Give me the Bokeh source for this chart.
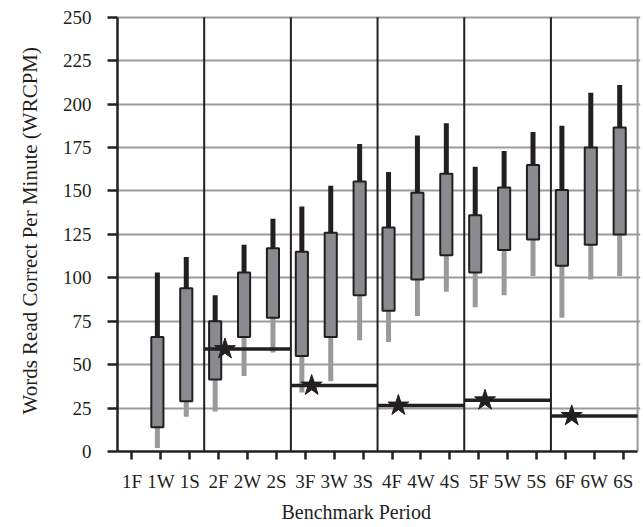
import math
from bokeh.plotting import figure
from bokeh.models import FixedTicker, Range1d, ColumnDataSource, Title
from bokeh.embed import file_html
from bokeh.resources import INLINE

# ---- data ----
categories = ["1F", "1W", "1S", "2F", "2W", "2S", "3F", "3W", "3S",
              "4F", "4W", "4S", "5F", "5W", "5S", "6F", "6W", "6S"]
low_whisker = [None, 2, 20, 23, 43.5, 57, 34, 40.5, 64, 63, 78, 92, 83, 90, 101, 77, 99, 101]
q1_values   = [None, 14, 29, 41.5, 66, 77, 55, 66, 90, 81, 99, 113, 103, 116, 122, 107, 119, 125]
q3_values   = [None, 66, 94, 75, 103, 117, 115, 126, 155.5, 129, 149, 160, 136, 152, 165, 150.5, 175, 186.5]
high_whisker = [None, 103, 112, 90, 119, 134, 141, 153, 177, 161, 182, 189, 164, 173, 184, 187.5, 206.5, 211]

grades = ["1", "2", "3", "4", "5", "6"]
benchmarks = [None, 59, 38, 26.5, 29.5, 20.5]

y_ticks = [0, 25, 50, 75, 100, 125, 150, 175, 200, 225, 250]

FONT = "Liberation Serif"
INK = "#231f20"
GRID = "#9b9b9b"
BOX_FILL = "#8a8b8e"
LOW_COL = "#9a9a9a"

# ---- figure ----
p = figure(width=643, height=527,
           x_range=Range1d(0, 18.1), y_range=Range1d(0, 252.2),
           output_backend="svg", toolbar_location=None,
           min_border_left=117, min_border_right=3,
           min_border_top=13, min_border_bottom=76)
p.outline_line_color = None
p.background_fill_color = "white"
p.border_fill_color = "white"

# grid
p.xgrid.grid_line_color = None
p.ygrid.grid_line_color = GRID
p.ygrid.grid_line_width = 2
p.ygrid.ticker = FixedTicker(ticks=y_ticks)

# axes
p.yaxis.ticker = FixedTicker(ticks=y_ticks)
p.yaxis.bounds = (0, 250)
p.yaxis.minor_tick_line_color = None
p.yaxis.major_tick_out = 10
p.yaxis.major_tick_in = 0
p.yaxis.major_tick_line_width = 2.5
p.yaxis.major_tick_line_color = INK
p.yaxis.axis_line_width = 2.5
p.yaxis.axis_line_color = INK
p.yaxis.major_label_standoff = 16
p.yaxis.major_label_text_font = FONT
p.yaxis.major_label_text_font_size = "19px"
p.yaxis.major_label_text_color = INK

tick_pos = [i + 0.5 for i in range(len(categories))]
p.xaxis.ticker = FixedTicker(ticks=tick_pos)
p.xaxis.bounds = (0, 18)
p.xaxis.major_label_overrides = {t: c for t, c in zip(tick_pos, categories)}
p.xaxis.minor_tick_line_color = None
p.xaxis.major_tick_out = 8
p.xaxis.major_tick_in = 0
p.xaxis.major_tick_line_width = 2.5
p.xaxis.major_tick_line_color = INK
p.xaxis.axis_line_width = 2.5
p.xaxis.axis_line_color = INK
p.xaxis.major_label_standoff = 11
p.xaxis.major_label_text_font = FONT
p.xaxis.major_label_text_font_size = "19px"
p.xaxis.major_label_text_color = INK

# axis titles
p.add_layout(Title(text="Benchmark Period", align="left", offset=164,
                   standoff=8, text_font=FONT, text_font_size="20px",
                   text_font_style="normal", text_color=INK), "below")
p.add_layout(Title(text="Words Read Correct Per Minute (WRCPM)", align="left", offset=37,
                   vertical_align="top",
                   standoff=31, text_font=FONT, text_font_size="21px",
                   text_font_style="normal", text_color=INK), "left")

# group dividers
div_x = [3 * k for k in range(1, 6)]
p.segment(x0=div_x, y0=[0] * len(div_x), x1=div_x, y1=[250] * len(div_x),
          line_color=INK, line_width=2)
p.segment(x0=[18], y0=[0], x1=[18], y1=[250], line_color=GRID, line_width=2)

# boxes
xs, lo, a, b, hi = [], [], [], [], []
for i, c in enumerate(categories):
    if q1_values[i] is None:
        continue
    xs.append(i + 0.38)
    lo.append(low_whisker[i]); a.append(q1_values[i])
    b.append(q3_values[i]); hi.append(high_whisker[i])
src = ColumnDataSource(dict(x=xs, lo=lo, q1=a, q3=b, hi=hi))

p.segment(x0="x", y0="lo", x1="x", y1="q1", source=src,
          line_color=LOW_COL, line_width=5, line_cap="butt")
p.segment(x0="x", y0="q3", x1="x", y1="hi", source=src,
          line_color=INK, line_width=5, line_cap="butt")
p.vbar(x="x", bottom="q1", top="q3", width=0.42, source=src,
       fill_color=BOX_FILL, line_color=INK, line_width=2)

# benchmarks
bx0, bx1, by, sx = [], [], [], []
for g, val in enumerate(benchmarks):
    if val is None:
        continue
    bx0.append(3 * g); bx1.append(3 * g + 3); by.append(val); sx.append(3 * g + 0.72)
p.segment(x0=bx0, y0=by, x1=bx1, y1=by, line_color=INK, line_width=3.5)
p.scatter(x=sx, y=by, marker="star", size=22, fill_color=INK, line_color=INK)

open("out.html", "w").write(file_html(p, INLINE))
